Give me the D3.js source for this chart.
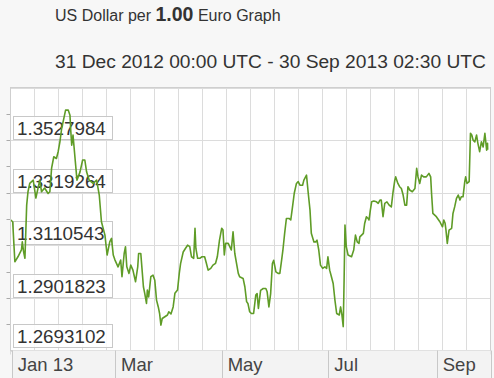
<!DOCTYPE html>
<html>
<head>
<meta charset="utf-8">
<script src="https://cdn.jsdelivr.net/npm/d3@7"></script>
<style>
  body { margin: 0; background: #f7f7f7; }
  svg { display: block; font-family: "Liberation Sans", Arial, sans-serif; }
</style>
</head>
<body>
<svg id="chart" width="494" height="378"></svg>
<script>
// USD per EUR, 31 Dec 2012 - 30 Sep 2013
const dates = [
  "2012-12-31 06","2013-01-01 12","2013-01-02 18","2013-01-04 12","2013-01-06 12","2013-01-07 00","2013-01-07 18","2013-01-08 12","2013-01-09 12","2013-01-10 06",
  "2013-01-11 06","2013-01-13 06","2013-01-14 18","2013-01-16 00","2013-01-17 00","2013-01-18 00","2013-01-19 18","2013-01-21 18","2013-01-22 18","2013-01-23 18",
  "2013-01-25 00","2013-01-26 12","2013-01-27 12","2013-01-28 12","2013-01-29 12","2013-01-30 18","2013-01-31 18","2013-02-02 06","2013-02-03 06","2013-02-03 18",
  "2013-02-04 06","2013-02-05 00","2013-02-06 00","2013-02-07 06","2013-02-09 00","2013-02-10 12","2013-02-11 18","2013-02-12 18","2013-02-14 06","2013-02-16 12",
  "2013-02-18 12","2013-02-20 00","2013-02-21 06","2013-02-23 06","2013-02-24 12","2013-02-26 00","2013-02-27 00","2013-02-28 00","2013-03-01 00","2013-03-02 18",
  "2013-03-04 06","2013-03-05 00","2013-03-06 06","2013-03-07 00","2013-03-07 18","2013-03-09 00","2013-03-10 00","2013-03-11 06","2013-03-12 18","2013-03-14 00",
  "2013-03-14 12","2013-03-15 18","2013-03-16 12","2013-03-17 06","2013-03-18 00","2013-03-19 00","2013-03-19 12","2013-03-20 06","2013-03-21 12","2013-03-22 18",
  "2013-03-23 18","2013-03-24 18","2013-03-25 18","2013-03-26 12","2013-03-27 06","2013-03-28 00","2013-03-29 12","2013-03-31 00","2013-03-31 18","2013-04-02 00",
  "2013-04-03 06","2013-04-04 06","2013-04-05 18","2013-04-06 18","2013-04-07 12","2013-04-09 00","2013-04-10 06","2013-04-11 12","2013-04-12 18","2013-04-13 18",
  "2013-04-15 00","2013-04-15 18","2013-04-16 06","2013-04-17 06","2013-04-18 12","2013-04-19 18","2013-04-21 06","2013-04-22 06","2013-04-23 06","2013-04-24 18",
  "2013-04-26 00","2013-04-27 12","2013-04-28 12","2013-04-29 18","2013-05-01 00","2013-05-01 18","2013-05-02 12","2013-05-03 06","2013-05-04 18","2013-05-06 12",
  "2013-05-07 12","2013-05-08 12","2013-05-10 12","2013-05-11 06","2013-05-13 06","2013-05-14 06","2013-05-15 06","2013-05-16 00","2013-05-17 00","2013-05-18 00",
  "2013-05-19 06","2013-05-20 12","2013-05-21 06","2013-05-22 00","2013-05-23 06","2013-05-24 18","2013-05-26 06","2013-05-27 00","2013-05-28 00","2013-05-29 00",
  "2013-05-30 00","2013-05-30 18","2013-06-01 00","2013-06-02 06","2013-06-03 06","2013-06-04 06","2013-06-05 00","2013-06-06 00","2013-06-07 00","2013-06-08 12",
  "2013-06-09 12","2013-06-10 12","2013-06-11 12","2013-06-12 18","2013-06-13 18","2013-06-14 18","2013-06-16 06","2013-06-17 00","2013-06-18 12","2013-06-19 12",
  "2013-06-20 12","2013-06-21 06","2013-06-22 18","2013-06-23 18","2013-06-24 12","2013-06-25 12","2013-06-26 12","2013-06-27 18","2013-06-29 00","2013-06-30 00",
  "2013-06-30 18","2013-07-01 18","2013-07-02 18","2013-07-03 18","2013-07-04 18","2013-07-05 18","2013-07-07 06","2013-07-08 00","2013-07-08 18","2013-07-09 12",
  "2013-07-10 00","2013-07-10 12","2013-07-11 06","2013-07-12 06","2013-07-14 06","2013-07-15 12","2013-07-16 12","2013-07-17 12","2013-07-18 12","2013-07-19 00",
  "2013-07-21 00","2013-07-21 18","2013-07-22 18","2013-07-23 18","2013-07-24 06","2013-07-25 00","2013-07-25 18","2013-07-27 00","2013-07-28 12","2013-07-29 12",
  "2013-07-30 12","2013-07-31 06","2013-08-01 06","2013-08-02 06","2013-08-03 12","2013-08-04 18","2013-08-06 00","2013-08-07 00","2013-08-08 00","2013-08-08 12",
  "2013-08-09 18","2013-08-10 18","2013-08-11 18","2013-08-12 18","2013-08-13 18","2013-08-14 18","2013-08-15 12","2013-08-16 12","2013-08-18 00","2013-08-19 12",
  "2013-08-20 12","2013-08-21 06","2013-08-22 06","2013-08-23 06","2013-08-24 12","2013-08-26 00","2013-08-27 12","2013-08-28 12","2013-08-29 00","2013-08-29 18",
  "2013-08-31 18","2013-09-02 18","2013-09-04 06","2013-09-05 00","2013-09-05 18","2013-09-06 06","2013-09-07 00","2013-09-08 00","2013-09-09 12","2013-09-10 06",
  "2013-09-11 06","2013-09-12 06","2013-09-13 06","2013-09-14 06","2013-09-15 00","2013-09-16 00","2013-09-17 00","2013-09-17 12","2013-09-18 06","2013-09-19 12",
  "2013-09-20 06","2013-09-21 00","2013-09-21 18","2013-09-22 18","2013-09-23 18","2013-09-24 12","2013-09-25 12","2013-09-26 12","2013-09-27 12","2013-09-28 12",
  "2013-09-29 12","2013-09-30 00","2013-09-30 02"
];

const rates = [
  1.3211,1.3204,1.3045,1.3065,1.3092,1.3124,1.3085,1.3059,1.3270,1.3323,
  1.3356,1.3369,1.3298,1.3338,1.3369,1.3323,1.3338,1.3316,1.3323,1.3417,
  1.3462,1.3455,1.3482,1.3521,1.3574,1.3614,1.3647,1.3647,1.3627,1.3561,
  1.3508,1.3548,1.3468,1.3369,1.3402,1.3449,1.3449,1.3402,1.3369,1.3356,
  1.3369,1.3310,1.3204,1.3151,1.3072,1.3124,1.3138,1.3072,1.3052,1.3025,
  1.3052,1.2986,1.3078,1.3105,1.3025,1.2999,1.3032,1.3012,1.2966,1.3025,
  1.3078,1.3078,1.3012,1.2946,1.2920,1.2880,1.2933,1.2906,1.2986,1.2992,
  1.2972,1.2893,1.2866,1.2840,1.2794,1.2820,1.2827,1.2834,1.2847,1.2838,
  1.2866,1.2920,1.2933,1.2999,1.3038,1.3084,1.3098,1.3111,1.3105,1.3065,
  1.3059,1.3178,1.3098,1.3059,1.3059,1.3065,1.3065,1.3039,1.3012,1.3019,
  1.3032,1.3039,1.3065,1.3131,1.3178,1.3171,1.3072,1.3118,1.3118,1.3092,
  1.3164,1.3078,1.2999,1.2986,1.2979,1.2946,1.2887,1.2880,1.2847,1.2840,
  1.2840,1.2913,1.2919,1.2860,1.2932,1.2939,1.2939,1.2926,1.2866,1.2919,
  1.3038,1.3051,1.3005,1.2999,1.2999,1.3051,1.3091,1.3158,1.3217,1.3217,
  1.3211,1.3263,1.3317,1.3356,1.3363,1.3349,1.3349,1.3369,1.3389,1.3317,
  1.3250,1.3158,1.3124,1.3124,1.3131,1.3092,1.3032,1.3019,1.3025,1.3019,
  1.3065,1.3012,1.2986,1.2959,1.2893,1.2840,1.2834,1.2866,1.2834,1.2788,
  1.2973,1.3191,1.3105,1.3072,1.3065,1.3092,1.3151,1.3124,1.3118,1.3144,
  1.3158,1.3197,1.3224,1.3217,1.3211,1.3250,1.3283,1.3286,1.3283,1.3277,
  1.3290,1.3290,1.3224,1.3277,1.3283,1.3270,1.3263,1.3323,1.3369,1.3382,
  1.3356,1.3343,1.3336,1.3310,1.3270,1.3270,1.3343,1.3330,1.3323,1.3336,
  1.3416,1.3382,1.3356,1.3389,1.3382,1.3382,1.3396,1.3382,1.3317,1.3237,
  1.3224,1.3204,1.3184,1.3211,1.3198,1.3171,1.3118,1.3171,1.3178,1.3237,
  1.3264,1.3297,1.3310,1.3290,1.3303,1.3303,1.3363,1.3382,1.3356,1.3363,
  1.3555,1.3548,1.3528,1.3521,1.3548,1.3515,1.3482,1.3521,1.3501,1.3555,
  1.3488,1.3515,1.3490
];

const yTicks = [1.2693102, 1.2901823, 1.3110543, 1.3319264, 1.3527984];
const xDomain = ["2012-12-31 06", "2013-10-01 17"];
const titleParts = ["US Dollar per ", "1.00", " Euro Graph"];
const rangeText = "31 Dec 2012 00:00 UTC - 30 Sep 2013 02:30 UTC";

const parse = d3.utcParse("%Y-%m-%d %H");
const data = dates.map((d, i) => ({ date: parse(d), value: rates[i] }));

const W = 494, H = 378;
const plot = { left: 10.5, right: 490.5, top: 87.5, bottom: 350.5 };
const step = yTicks[1] - yTicks[0];

const svg = d3.select("#chart");

const x = d3.scaleUtc()
  .domain(xDomain.map(parse))
  .range([plot.left, plot.right]);

const y = d3.scaleLinear()
  .domain([yTicks[0], yTicks[0] + 5 * step])
  .range([plot.bottom, plot.top]);

// Titles
const t1 = svg.append("text").attr("x", 55).attr("y", 21).attr("fill", "#333").style("font-size", "16px");
t1.append("tspan").text(titleParts[0]);
t1.append("tspan").style("font-weight", "bold").style("font-size", "19.5px").text(titleParts[1]);
t1.append("tspan").text(titleParts[2]);

svg.append("text")
  .attr("x", 55).attr("y", 68)
  .attr("fill", "#333")
  .style("font-size", "19.2px")
  .text(rangeText);

// Plot background
svg.append("rect")
  .attr("x", plot.left).attr("y", plot.top)
  .attr("width", plot.right - plot.left).attr("height", plot.bottom - plot.top)
  .attr("fill", "#fff");

// Vertical grid (20 divisions), every 4th one pokes out below
const vGrid = d3.range(21).map(i => plot.left + i * (plot.right - plot.left) / 20);
svg.selectAll(".vgrid")
  .data(vGrid)
  .join("line")
  .attr("class", "vgrid")
  .attr("x1", d => d).attr("x2", d => d)
  .attr("y1", plot.top)
  .attr("y2", (d, i) => i % 4 === 0 ? plot.bottom + 4 : plot.bottom)
  .attr("stroke", "#dcdcdc");

// Horizontal grid
const hGrid = yTicks.concat([yTicks[0] + 5 * step]);
svg.selectAll(".hgrid")
  .data(hGrid)
  .join("line")
  .attr("class", "hgrid")
  .attr("x1", plot.left).attr("x2", plot.right)
  .attr("y1", d => Math.round(y(d)) + 0.5).attr("y2", d => Math.round(y(d)) + 0.5)
  .attr("stroke", "#dcdcdc");

// Small ticks on left edge, every half step
const minorTicks = d3.range(1, 10).map(i => yTicks[0] + i * step / 2);
svg.selectAll(".ytick")
  .data(minorTicks)
  .join("line")
  .attr("class", "ytick")
  .attr("x1", plot.left - 4).attr("x2", plot.left)
  .attr("y1", d => Math.round(y(d)) + 0.5).attr("y2", d => Math.round(y(d)) + 0.5)
  .attr("stroke", "#aaa");

// Value labels in boxes
const labels = svg.selectAll(".ylab")
  .data(yTicks)
  .join("g")
  .attr("class", "ylab")
  .attr("transform", d => `translate(13, ${Math.min(Math.round(y(d)), plot.bottom - 2.5)})`);

labels.append("rect")
  .attr("x", 0.5).attr("y", -23.5)
  .attr("width", 99).attr("height", 23)
  .attr("fill", "#fff").attr("fill-opacity", 0.85)
  .attr("stroke", "#c8c8c8");

labels.append("text")
  .attr("x", 4).attr("y", -5)
  .attr("fill", "#333")
  .style("font-size", "18.8px")
  .text(d => d3.format(".7f")(d));

// Rate line
svg.append("clipPath").attr("id", "clip")
  .append("rect")
  .attr("x", plot.left).attr("y", plot.top)
  .attr("width", plot.right - plot.left).attr("height", plot.bottom - plot.top);

const line = d3.line()
  .x(d => x(d.date))
  .y(d => y(d.value));

svg.append("path")
  .datum(data)
  .attr("clip-path", "url(#clip)")
  .attr("fill", "none")
  .attr("stroke", "#5f9c27")
  .attr("stroke-width", 1.6)
  .attr("stroke-linejoin", "round")
  .attr("d", line);

// Plot border
svg.append("rect")
  .attr("x", plot.left).attr("y", plot.top)
  .attr("width", plot.right - plot.left).attr("height", plot.bottom - plot.top)
  .attr("fill", "none")
  .attr("stroke", "#cfcfcf");

// Month axis band
const months = x.ticks(d3.utcMonth.every(2));
const fmt = d => d.getUTCMonth() === 0 ? d3.utcFormat("%b %y")(d) : d3.utcFormat("%b")(d);

svg.append("rect")
  .attr("x", Math.round(x(months[0])) + 0.5).attr("y", plot.bottom)
  .attr("width", plot.right - Math.round(x(months[0])) - 0.5)
  .attr("height", H - plot.bottom)
  .attr("fill", "#f3f3f3");

svg.selectAll(".msep")
  .data(months.concat([x.domain()[1]]))
  .join("line")
  .attr("class", "msep")
  .attr("x1", d => Math.round(x(d)) + 0.5).attr("x2", d => Math.round(x(d)) + 0.5)
  .attr("y1", plot.bottom).attr("y2", H)
  .attr("stroke", "#c8c8c8");

svg.selectAll(".mlab")
  .data(months)
  .join("text")
  .attr("class", "mlab")
  .attr("x", d => x(d) + 6)
  .attr("y", 371)
  .attr("fill", "#444")
  .style("font-size", "18.5px")
  .text(fmt);
</script>
</body>
</html>
